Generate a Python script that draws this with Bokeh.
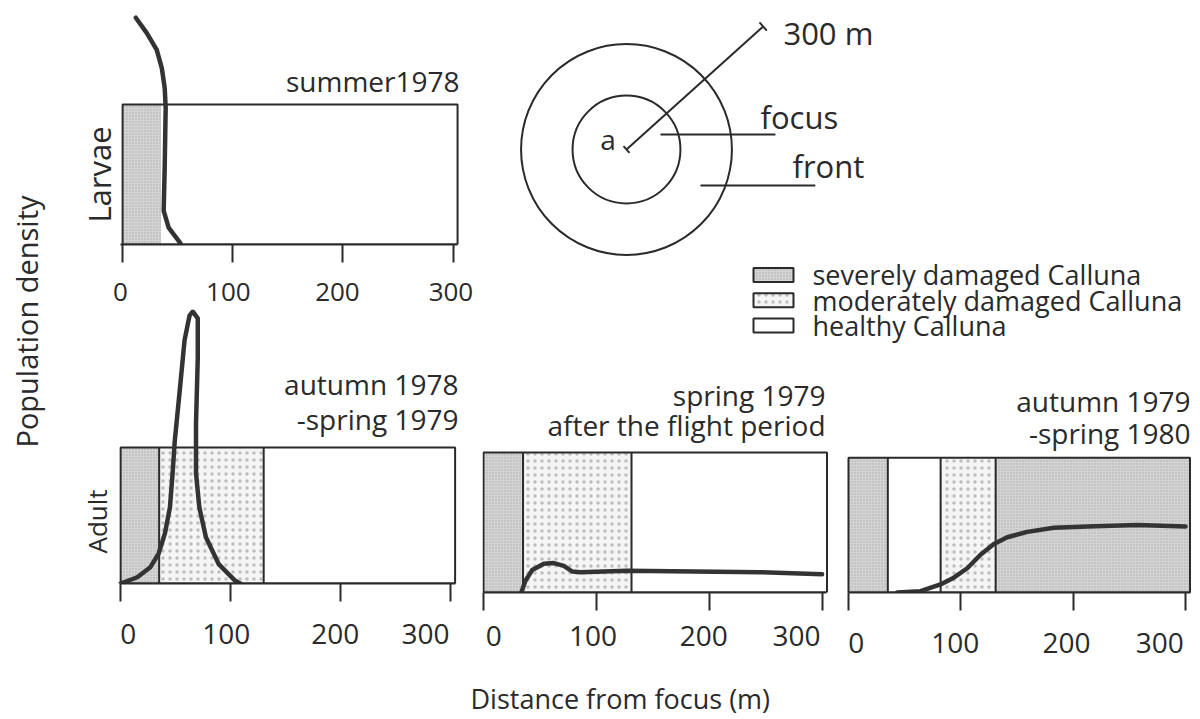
from math import pi, cos, sin, radians
from bokeh.plotting import figure
from bokeh.layouts import row, column
from bokeh.models import Range1d, FixedTicker, Arrow, TeeHead
from bokeh.core.properties import value
from bokeh.embed import file_html
from bokeh.resources import INLINE

FONT = "Open Sans"
INK = "#2a2a2a"
CURVE = "#333333"
BOX_RIGHT = 304

# ---------------- data ----------------
TICKS = [0, 100, 200, 300]
TICK_LABELS = ["0", "100", "200", "300"]

# Larvae, summer 1978
LARVAE_X = [12, 22, 31, 35.6, 38.2, 39.1, 38.2, 37.3, 41.8, 52.4]
LARVAE_Y = [1.62, 1.51, 1.39, 1.26, 1.12, 0.98, 0.55, 0.24, 0.12, 0.01]
LARVAE_ZONE_START = [0, 35]
LARVAE_ZONE_END = [35, 300]
LARVAE_ZONE_KIND = ["severe", "healthy"]

# Adult, autumn 1978 - spring 1979
A78_X = [0, 15.1, 27.0, 34.5, 40.3, 44.8, 47.2, 49.2, 53.7, 58.1, 62.6, 65.6, 70.1, 70.1, 68.5, 68.5, 71.5, 77.5, 89.3, 104.2, 108.6]
A78_Y = [0, 0.046, 0.12, 0.22, 0.37, 0.56, 0.81, 1.05, 1.42, 1.79, 1.97, 2.0, 1.95, 1.66, 1.18, 0.81, 0.56, 0.34, 0.14, 0.02, 0.0]
A78_ZONE_START = [0, 35, 130]
A78_ZONE_END = [35, 130, 300]
A78_ZONE_KIND = ["severe", "moderate", "healthy"]

# Adult, spring 1979 after the flight period
S79_X = [33.5, 37.2, 43.1, 53.4, 62.2, 71.1, 78.5, 85.8, 127.2, 186.1, 245.1, 299.7]
S79_Y = [0.0, 0.085, 0.16, 0.205, 0.21, 0.19, 0.15, 0.145, 0.155, 0.15, 0.145, 0.13]
S79_ZONE_START = [0, 35, 131]
S79_ZONE_END = [35, 131, 300]
S79_ZONE_KIND = ["severe", "moderate", "healthy"]

# Adult, autumn 1979 - spring 1980
A79_X = [43.4, 64.1, 81.9, 93.7, 105.7, 117.5, 129.4, 141.3, 159.1, 182.8, 212.5, 257.0, 300]
A79_Y = [0.0, 0.01, 0.06, 0.11, 0.18, 0.28, 0.36, 0.41, 0.45, 0.48, 0.49, 0.50, 0.49]
A79_ZONE_START = [0, 35, 82, 131]
A79_ZONE_END = [35, 82, 131, 300]
A79_ZONE_KIND = ["severe", "healthy", "moderate", "severe"]

TITLE_TL = ["summer1978"]
TITLE_A78 = ["autumn 1978", "-spring 1979"]
TITLE_S79 = ["spring 1979", "after the flight period"]
TITLE_A79 = ["autumn 1979", "-spring 1980"]

LEGEND_KINDS = ["severe", "moderate", "healthy"]
LEGEND_LABELS = ["severely damaged Calluna", "moderately damaged Calluna", "healthy Calluna"]

# schematic (metres)
FOCUS_R = 88
FRONT_R = 172
ARROW_LEN = 300
ARROW_DEG = 42

ZONE_STYLE = {
    "severe": dict(fill_color="#d4d4d4", hatch_pattern="dot", hatch_color="#8a8a8a",
                   hatch_scale=3, hatch_weight=1, hatch_alpha=0.55),
    "moderate": dict(fill_color="#f5f5f5", hatch_pattern="dot", hatch_color="#9a9a9a",
                     hatch_scale=7, hatch_weight=1, hatch_alpha=0.6),
    "healthy": dict(fill_color="white"),
}


def base_fig(w, h, xr, yr, **kw):
    opts = dict(width=w, height=h, x_range=Range1d(*xr), y_range=Range1d(*yr),
                title=None, toolbar_location=None, output_backend="svg",
                outline_line_color=None, background_fill_color="white",
                border_fill_color="white")
    opts.update(kw)
    return figure(**opts)


def panel(w, h, xr, yr, mb, label_pos, standoff, tick_font, lo_bound):
    p = base_fig(w, h, xr, yr, y_axis_type=None,
                 min_border_left=mb[0], min_border_right=mb[1],
                 min_border_top=0, min_border_bottom=mb[2])
    p.xgrid.visible = False
    ax = p.xaxis[0]
    ax.ticker = FixedTicker(ticks=label_pos, minor_ticks=TICKS)
    ax.major_label_overrides = {float(lp): t for lp, t in zip(label_pos, TICK_LABELS)}
    ax.bounds = (lo_bound, BOX_RIGHT)
    ax.major_tick_out = 0
    ax.major_tick_in = 0
    ax.minor_tick_out = 18
    ax.minor_tick_in = 0
    ax.minor_tick_line_width = 2
    ax.minor_tick_line_color = INK
    ax.axis_line_width = 2
    ax.axis_line_color = INK
    ax.major_label_standoff = standoff
    ax.major_label_text_font = FONT
    ax.major_label_text_font_size = tick_font
    ax.major_label_text_color = INK
    return p


def draw_zones(p, starts, ends, kinds, dividers):
    for kind, style in ZONE_STYLE.items():
        L = [s for s, k in zip(starts, kinds) if k == kind]
        R = [BOX_RIGHT if e >= 300 else e for e, k in zip(ends, kinds) if k == kind]
        if L:
            p.quad(left=L, right=R, bottom=0, top=1, line_color=None, **style)
    if dividers:
        d = starts[1:]
        p.segment(x0=d, y0=[0] * len(d), x1=d, y1=[1] * len(d),
                  line_color=INK, line_width=2)
    p.quad(left=0, right=BOX_RIGHT, bottom=0, top=1, fill_color=None,
           line_color=INK, line_width=2)


def draw_curve(p, xs, ys):
    p.line(xs, ys, line_color=CURVE, line_width=4.5, line_join="round", line_cap="round")


def draw_title(p, x, ys, texts):
    p.text(x=[x] * len(texts), y=ys, text=texts, text_align="right",
           text_baseline="alphabetic", text_font=value(FONT),
           text_font_size="28px", text_color=INK)


def side_label(p, x, y, text, size):
    p.text(x=[x], y=[y], text=[text], angle=pi / 2, text_align="center",
           text_baseline="middle", text_font=value(FONT),
           text_font_size=size, text_color=INK)


# ---------------- top-left: larvae ----------------
tl = panel(414, 309, (-38.2, 306.67), (0, 1.743), (12, 14, 65),
           [-2, 96, 195, 298], 20, "26px", -2)
draw_zones(tl, LARVAE_ZONE_START, LARVAE_ZONE_END, LARVAE_ZONE_KIND, False)
draw_curve(tl, LARVAE_X, LARVAE_Y)
draw_title(tl, 305.8, [1.171], TITLE_TL)
side_label(tl, -21.5, 0.5, "Larvae", "31px")

# ---------------- bottom-left: adult 78/79 ----------------
pa = panel(414, 363, (-36.5, 308.9), (0, 2.015), (4, 22, 89),
           [7, 96, 195, 277], 22, "28px", 0)
draw_zones(pa, A78_ZONE_START, A78_ZONE_END, A78_ZONE_KIND, True)
draw_curve(pa, A78_X, A78_Y)
draw_title(pa, 307, [1.47, 1.213], TITLE_A78)
side_label(pa, -21.8, 0.456, "Adult", "26px")

# ---------------- bottom-middle: spring 1979 ----------------
pb = panel(356, 327, (-0.885, 308.0), (0, 1.764), (0, 7, 80),
           [9, 97, 195, 277], 15, "28px", 0)
draw_zones(pb, S79_ZONE_START, S79_ZONE_END, S79_ZONE_KIND, True)
draw_curve(pb, S79_X, S79_Y)
draw_title(pb, 302.7, [1.407, 1.193], TITLE_S79)

# ---------------- bottom-right: autumn 79/80 ----------------
pc = panel(362, 327, (-4.45, 306.2), (0, 1.833), (5, 8, 74),
           [7, 95, 194, 277], 22, "28px", 0)
draw_zones(pc, A79_ZONE_START, A79_ZONE_END, A79_ZONE_KIND, True)
draw_curve(pc, A79_X, A79_Y)
draw_title(pc, 304.5, [1.42, 1.181], TITLE_A79)

# ---------------- schematic ----------------
circ = base_fig(718, 256, (-234.9, 936.4), (-174.6, 243.1),
                x_axis_type=None, y_axis_type=None, min_border=0)
circ.grid.visible = False
circ.circle(x=[0, 0], y=[0, 0], radius=[FOCUS_R, FRONT_R], fill_color=None,
            line_color=INK, line_width=2)
ax_end = (ARROW_LEN * cos(radians(ARROW_DEG)), ARROW_LEN * sin(radians(ARROW_DEG)))
circ.add_layout(Arrow(x_start=0, y_start=0, x_end=ax_end[0], y_end=ax_end[1],
                      line_color=INK, line_width=2,
                      start=TeeHead(size=9, line_width=2, line_color=INK),
                      end=TeeHead(size=11, line_width=2, line_color=INK)))
circ.segment(x0=[55.5, 120.7], y0=[24.5, -58.7], x1=[243, 308], y1=[24.5, -58.7],
             line_color=INK, line_width=2)
circ.text(x=[218.6, 270.8, 256], y=[52.2, -27.7, 190.0], text=["focus", "front", "300 m"],
          text_align="left", text_baseline="alphabetic", text_font=value(FONT),
          text_font_size="31px", text_color=INK)
circ.text(x=[-30.2], y=[17.5], text=["a"], text_align="center", text_baseline="alphabetic",
          text_font=value(FONT), text_font_size="28px", text_color=INK)

# ---------------- legend ----------------
leg = base_fig(718, 89, (0, 718), (2.792, -0.733), x_axis_type=None, y_axis_type=None,
               min_border=0)
leg.grid.visible = False
for i, kind in enumerate(LEGEND_KINDS):
    leg.rect(x=[291], y=[i], width=40, height=14, width_units="screen",
             height_units="screen", line_color=INK, line_width=2, **ZONE_STYLE[kind])
leg.text(x=[330] * 3, y=[i - 0.008 for i in range(3)], text=LEGEND_LABELS,
         text_align="left", text_baseline="alphabetic", text_font=value(FONT),
         text_font_size="27px", text_color=INK)

# ---------------- shared labels ----------------
popf = base_fig(68, 719, (0, 68), (0, 719), x_axis_type=None, y_axis_type=None, min_border=0)
popf.grid.visible = False
popf.text(x=[26], y=[398], text=["Population density"], angle=pi / 2, text_align="center",
          text_baseline="middle", text_font=value(FONT), text_font_size="29px",
          text_color=INK)

xlab = base_fig(1132, 47, (0, 1132), (0, 47), x_axis_type=None, y_axis_type=None, min_border=0)
xlab.grid.visible = False
xlab.text(x=[402], y=[21], text=["Distance from focus (m)"], text_align="left",
          text_baseline="alphabetic", text_font=value(FONT), text_font_size="27px",
          text_color=INK)

left_col = column(tl, pa)
right_col = column(circ, leg, row(pb, pc))
main = column(row(left_col, right_col), xlab)
page = row(popf, main)

open("out.html", "w").write(file_html(page, INLINE))
